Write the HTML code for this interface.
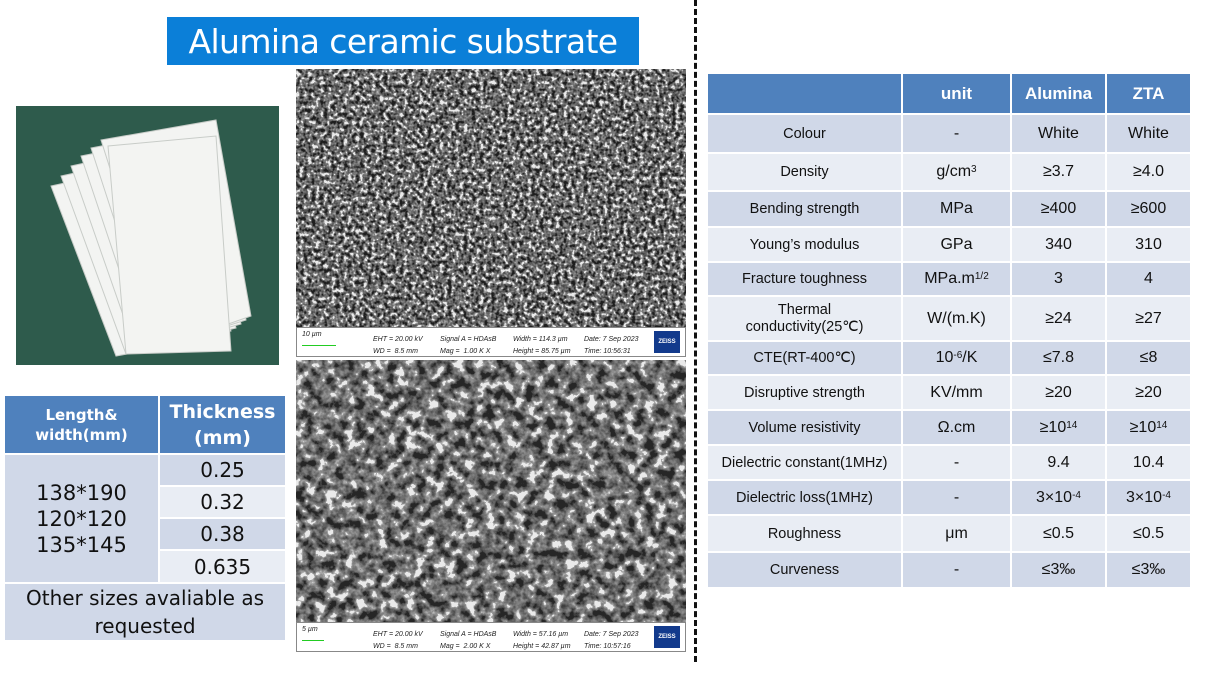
<!DOCTYPE html>
<html><head><meta charset="utf-8"><style>
*{margin:0;padding:0;box-sizing:border-box}
body{width:1208px;height:674px;background:#fff;position:relative;overflow:hidden;font-family:"Liberation Sans",Arial,sans-serif}
.abs{position:absolute}
.title{left:167px;top:17px;width:472px;height:48px;background:#0b7fd8;color:#fff;font-size:33px;text-align:center;line-height:50px;font-family:"DejaVu Sans","Liberation Sans",sans-serif;letter-spacing:-0.6px}
.dash{left:694px;top:0;height:662px;border-left:3px dashed #111}
table{border-collapse:separate;border-spacing:0;position:absolute}
td{text-align:center;vertical-align:middle;color:#111;border-right:2px solid #fff;border-bottom:2px solid #fff;padding:0}
.h td{background:#4f81bd;color:#fff;font-weight:bold}
.d{background:#d0d8e8}.l{background:#e9edf4}
#rt{left:708px;top:74px;font-size:15px}
#rt td{font-size:16px}
#rt td:first-child{font-size:14.5px}
#lt{left:5px;top:396px;font-family:"DejaVu Sans","Liberation Sans",sans-serif}
sup{font-size:10px;vertical-align:4px}
.foot{font-family:"Liberation Sans",sans-serif;font-style:italic;font-size:7px;color:#222}
</style></head><body>
<div class="abs title">Alumina ceramic substrate</div>
<div class="abs dash"></div>

<!-- photo -->
<svg class="abs" style="left:16px;top:106px" width="263" height="259">
<rect width="263" height="259" fill="#2e5b4c"/>
<g fill="#f3f4f2" stroke="#c8ccc8" stroke-width="1">
<polygon points="35,80 150,55 210,230 100,250"/>
<polygon points="45,70 160,45 215,225 110,248"/>
<polygon points="55,60 170,35 220,222 120,246"/>
<polygon points="65,50 180,27 225,218 130,244"/>
<polygon points="75,42 190,20 230,214 140,242"/>
<polygon points="85,34 200,14 235,210 150,240"/>
<polygon points="92,40 200,30 215,245 110,248"/>
</g>
</svg>

<!-- SEM images -->
<svg class="abs" style="left:296px;top:69px" width="390" height="584">
<defs>
<filter id="f1" x="0" y="0" width="100%" height="100%" color-interpolation-filters="sRGB"><feTurbulence type="fractalNoise" baseFrequency="0.25" numOctaves="2" seed="3"/><feColorMatrix type="matrix" values="2.5 0 0 0 -0.75 2.5 0 0 0 -0.75 2.5 0 0 0 -0.75 0 0 0 0 1"/><feComponentTransfer><feFuncR type="discrete" tableValues="0.12 0.22 0.3 0.36 0.42 0.48 0.55 0.65 0.92"/><feFuncG type="discrete" tableValues="0.12 0.22 0.3 0.36 0.42 0.48 0.55 0.65 0.92"/><feFuncB type="discrete" tableValues="0.12 0.22 0.3 0.36 0.42 0.48 0.55 0.65 0.92"/></feComponentTransfer></filter>
<filter id="f2" x="0" y="0" width="100%" height="100%" color-interpolation-filters="sRGB"><feTurbulence type="fractalNoise" baseFrequency="0.1" numOctaves="3" seed="7"/><feColorMatrix type="matrix" values="2.5 0 0 0 -0.75 2.5 0 0 0 -0.75 2.5 0 0 0 -0.75 0 0 0 0 1"/><feComponentTransfer><feFuncR type="discrete" tableValues="0.15 0.25 0.32 0.38 0.44 0.5 0.56 0.66 0.92"/><feFuncG type="discrete" tableValues="0.15 0.25 0.32 0.38 0.44 0.5 0.56 0.66 0.92"/><feFuncB type="discrete" tableValues="0.15 0.25 0.32 0.38 0.44 0.5 0.56 0.66 0.92"/></feComponentTransfer></filter>
</defs>
<rect width="390" height="258" fill="#888" filter="url(#f1)"/>
<g transform="translate(0,291)"><rect width="390" height="262" fill="#888" filter="url(#f2)"/></g>
</svg>
<div class="abs" style="left:296px;top:327px;width:390px;height:30px;border:1px solid #888;background:#fff"></div>
<div class="abs" style="left:296px;top:622px;width:390px;height:30px;border:1px solid #888;background:#fff"></div>
<div class="abs foot" style="left:302px;top:331px">10 µm</div>
<div class="abs" style="left:302px;top:345px;width:34px;border-top:1px solid #2c2"></div>
<div class="abs foot" style="left:373px;top:334px;line-height:12px">EHT = 20.00 kV<br>WD = &nbsp;8.5 mm</div>
<div class="abs foot" style="left:440px;top:334px;line-height:12px">Signal A = HDAsB<br>Mag = &nbsp;1.00 K X</div>
<div class="abs foot" style="left:513px;top:334px;line-height:12px">Width = 114.3 µm<br>Height = 85.75 µm</div>
<div class="abs foot" style="left:584px;top:334px;line-height:12px">Date: 7 Sep 2023<br>Time: 10:56:31</div>
<div class="abs" style="left:654px;top:331px;width:26px;height:22px;background:#123a8c;color:#fff;font-size:6px;font-weight:bold;text-align:center;line-height:22px">ZEISS</div>
<div class="abs foot" style="left:302px;top:626px">5 µm</div>
<div class="abs" style="left:302px;top:640px;width:22px;border-top:1px solid #2c2"></div>
<div class="abs foot" style="left:373px;top:629px;line-height:12px">EHT = 20.00 kV<br>WD = &nbsp;8.5 mm</div>
<div class="abs foot" style="left:440px;top:629px;line-height:12px">Signal A = HDAsB<br>Mag = &nbsp;2.00 K X</div>
<div class="abs foot" style="left:513px;top:629px;line-height:12px">Width = 57.16 µm<br>Height = 42.87 µm</div>
<div class="abs foot" style="left:584px;top:629px;line-height:12px">Date: 7 Sep 2023<br>Time: 10:57:16</div>
<div class="abs" style="left:654px;top:626px;width:26px;height:22px;background:#123a8c;color:#fff;font-size:6px;font-weight:bold;text-align:center;line-height:22px">ZEISS</div>

<!-- left table -->
<table id="lt">
<tr class="h"><td style="width:155px;height:59px;font-size:15px;line-height:20px">Length&amp;<br>width(mm)</td><td style="width:127px;font-size:19px;line-height:26px">Thickness<br>(mm)</td></tr>
<tr><td class="d" rowspan="4" style="font-size:21px;line-height:26px">138*190<br>120*120<br>135*145</td><td class="d" style="height:32px;font-size:20px">0.25</td></tr>
<tr><td class="l" style="height:32px;font-size:20px">0.32</td></tr>
<tr><td class="d" style="height:32px;font-size:20px">0.38</td></tr>
<tr><td class="l" style="height:33px;font-size:20px">0.635</td></tr>
<tr><td class="d" colspan="2" style="height:58px;font-size:20px;line-height:28px">Other sizes avaliable as<br>requested</td></tr>
</table>

<!-- right table -->
<table id="rt">
<tr class="h"><td style="width:195px;height:41px"></td><td style="width:109px;font-size:17px">unit</td><td style="width:95px;font-size:17px">Alumina</td><td style="width:85px;font-size:17px">ZTA</td></tr>
<tr class="d"><td style="height:39px">Colour</td><td>-</td><td>White</td><td>White</td></tr>
<tr class="l"><td style="height:38px">Density</td><td>g/cm<sup>3</sup></td><td>≥3.7</td><td>≥4.0</td></tr>
<tr class="d"><td style="height:36px">Bending strength</td><td>MPa</td><td>≥400</td><td>≥600</td></tr>
<tr class="l"><td style="height:35px">Young’s modulus</td><td>GPa</td><td>340</td><td>310</td></tr>
<tr class="d"><td style="height:34px">Fracture toughness</td><td>MPa.m<sup>1/2</sup></td><td>3</td><td>4</td></tr>
<tr class="l"><td style="height:45px;line-height:17px">Thermal<br>conductivity(25℃)</td><td>W/(m.K)</td><td>≥24</td><td>≥27</td></tr>
<tr class="d"><td style="height:34px">CTE(RT-400℃)</td><td>10<sup>-6</sup>/K</td><td>≤7.8</td><td>≤8</td></tr>
<tr class="l"><td style="height:35px">Disruptive strength</td><td>KV/mm</td><td>≥20</td><td>≥20</td></tr>
<tr class="d"><td style="height:35px">Volume resistivity</td><td>Ω.cm</td><td>≥10<sup>14</sup></td><td>≥10<sup>14</sup></td></tr>
<tr class="l"><td style="height:35px">Dielectric constant(1MHz)</td><td>-</td><td>9.4</td><td>10.4</td></tr>
<tr class="d"><td style="height:35px">Dielectric loss(1MHz)</td><td>-</td><td>3×10<sup>-4</sup></td><td>3×10<sup>-4</sup></td></tr>
<tr class="l"><td style="height:37px">Roughness</td><td>μm</td><td>≤0.5</td><td>≤0.5</td></tr>
<tr class="d"><td style="height:36px">Curveness</td><td>-</td><td>≤3‰</td><td>≤3‰</td></tr>
</table>
</body></html>
